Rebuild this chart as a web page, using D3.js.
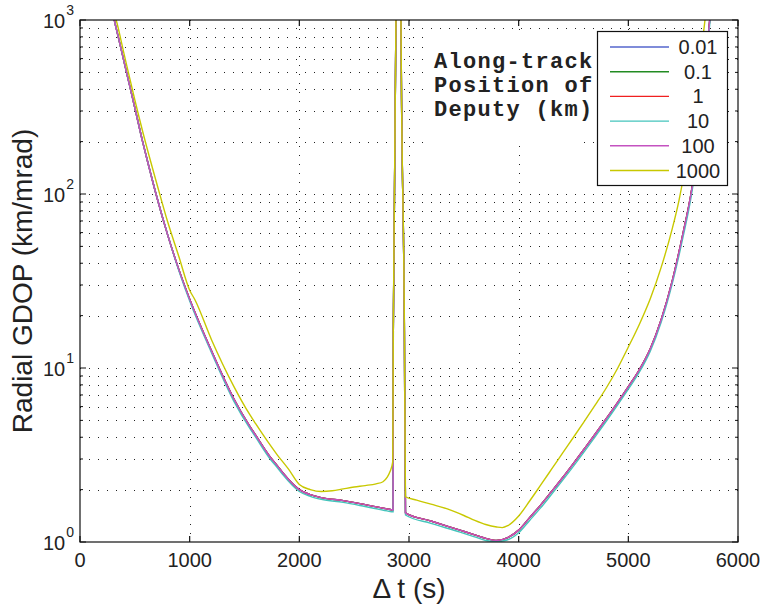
<!DOCTYPE html>
<html>
<head>
<meta charset="utf-8">
<script src="https://cdn.jsdelivr.net/npm/d3@7"></script>
<style>
  body { margin: 0; background: #fff; }
  svg { display: block; font-family: "Liberation Sans", Arial, sans-serif; }
</style>
</head>
<body>
<div id="vis"></div>
<script>
// time samples (s) for the near-identical small-offset runs
var tMain = [300, 313, 350, 400, 450, 500, 571, 600, 693, 800, 900, 1003, 1200, 1400, 1550, 1600, 1732, 1800, 1851,
  2000, 2100, 2200, 2400, 2600, 2800, 2855, 2857, 2881, 2885, 2923, 2927, 2958, 2968, 3200, 3465, 3600, 3700,
  3800, 3900, 4000, 4100, 4200, 4300, 4400, 4500, 4600, 4700, 4800, 4900, 5000, 5100, 5200, 5300, 5400, 5500,
  5571, 5650, 5742, 5800];

var gdop001 = [1100, 1000, 794, 582, 427, 313, 200, 169, 100, 58, 37, 24.6, 12.5, 6.7, 4.6, 4.12, 3.09, 2.74, 2.49,
  2.00, 1.87, 1.80, 1.73, 1.64, 1.55, 1.53, 16.5, 1000, 5000, 5000, 1000, 16.5, 1.47, 1.32, 1.17, 1.10, 1.05,
  1.02, 1.06, 1.17, 1.38, 1.63, 1.95, 2.34, 2.83, 3.44, 4.19, 5.13, 6.31, 7.82, 9.77, 12.9, 19, 31.6, 60,
  100, 220, 1000, 2500];
var gdop01 = [1100, 1000, 794, 582, 427, 313, 200, 169, 100, 58, 37, 24.6, 12.5, 6.7, 4.6, 4.12, 3.09, 2.74, 2.49,
  2.00, 1.87, 1.80, 1.73, 1.64, 1.55, 1.53, 16.5, 1000, 5000, 5000, 1000, 16.5, 1.47, 1.32, 1.17, 1.10, 1.05,
  1.02, 1.06, 1.17, 1.38, 1.63, 1.95, 2.34, 2.83, 3.44, 4.19, 5.13, 6.31, 7.82, 9.77, 12.9, 19, 31.6, 60,
  100, 220, 1000, 2500];
var gdop1 = [1100, 1000, 794, 582, 427, 313, 200, 169, 100, 58, 37, 24.6, 12.5, 6.7, 4.6, 4.12, 3.09, 2.74, 2.49,
  2.00, 1.87, 1.80, 1.73, 1.64, 1.55, 1.53, 16.5, 1000, 5000, 5000, 1000, 16.5, 1.47, 1.32, 1.17, 1.10, 1.05,
  1.02, 1.06, 1.17, 1.38, 1.63, 1.95, 2.34, 2.83, 3.44, 4.19, 5.13, 6.31, 7.82, 9.77, 12.9, 19, 31.6, 60,
  100, 220, 1000, 2500];
var gdop10 = [1100, 1000, 794, 582, 427, 313, 200, 169, 100, 58, 36.5, 24.0, 12.2, 6.5, 4.48, 4.02, 3.01, 2.67, 2.43,
  1.95, 1.83, 1.76, 1.69, 1.60, 1.51, 1.49, 16.5, 1000, 5000, 5000, 1000, 16.5, 1.43, 1.28, 1.14, 1.07, 1.02,
  1.005, 1.03, 1.13, 1.33, 1.57, 1.88, 2.26, 2.73, 3.32, 4.05, 4.96, 6.1, 7.55, 9.45, 12.5, 18.4, 30.5, 57,
  95, 210, 940, 2400];
var gdop100 = [1100, 1000, 794, 582, 427, 313, 200, 169, 100, 58, 37, 24.6, 12.5, 6.7, 4.6, 4.12, 3.09, 2.74, 2.49,
  2.00, 1.87, 1.80, 1.73, 1.64, 1.55, 1.53, 16.5, 1000, 5000, 5000, 1000, 16.5, 1.47, 1.32, 1.17, 1.10, 1.05,
  1.02, 1.06, 1.17, 1.38, 1.63, 1.95, 2.34, 2.83, 3.44, 4.19, 5.13, 6.31, 7.82, 9.77, 12.9, 19, 31.6, 60,
  100, 220, 1000, 2500];

// the 1000 km run has its own samples
var tFar = [300, 330, 400, 500, 600, 700, 800, 900, 1000, 1049, 1200, 1400, 1550, 1600, 1800, 1900, 2000, 2100,
  2200, 2300, 2400, 2500, 2600, 2700, 2763, 2800, 2827, 2852, 2857, 2881, 2885, 2923, 2927, 2958, 2968, 3070,
  3200, 3374, 3500, 3600, 3700, 3800, 3850, 3900, 4000, 4100, 4200, 4300, 4400, 4500, 4600, 4700, 4800, 4900,
  5000, 5100, 5200, 5300, 5400, 5462, 5550, 5620, 5699, 5750];
var gdop1000 = [1150, 1000, 645, 347, 195, 115, 69, 44, 28, 24.6, 14.5, 7.9, 5.37, 4.8, 3.16, 2.63, 2.14, 2.0,
  1.95, 1.97, 2.02, 2.07, 2.11, 2.16, 2.22, 2.35, 2.54, 2.9, 18, 1000, 5000, 5000, 1000, 18, 1.82, 1.74,
  1.65, 1.53, 1.42, 1.33, 1.26, 1.22, 1.21, 1.24, 1.41, 1.72, 2.12, 2.62, 3.24, 4.0, 4.95, 6.15, 7.7, 9.9,
  13.2, 17.8, 25, 38, 63, 92, 190, 400, 1000, 2000];

var legendLabels = ["0.01", "0.1", "1", "10", "100", "1000"];
var lineColors = ["#5566cc", "#228b22", "#f02020", "#45c4bc", "#c452c0", "#c8c800"];
var xTicks = [0, 1000, 2000, 3000, 4000, 5000, 6000];
var yDecades = [1, 10, 100, 1000];
var yExp = ["0", "1", "2", "3"];

var series = [
  { t: tMain, v: gdop001 },
  { t: tMain, v: gdop01 },
  { t: tMain, v: gdop1 },
  { t: tMain, v: gdop10 },
  { t: tMain, v: gdop100 },
  { t: tFar, v: gdop1000 }
];

var w = 762;
var h = 604;
var pLeft = 80, pRight = 738, pTop = 20, pBottom = 542;

var svg = d3.select("#vis")
  .append("svg")
  .attr("width", w)
  .attr("height", h);

var x = d3.scaleLinear().domain([0, 6000]).range([pLeft, pRight]);
var y = d3.scaleLog().domain([1, 1000]).range([pBottom, pTop]);

// minor log ticks 2..9 in each decade
var minor = [];
[1, 10, 100].forEach(function (d) {
  for (var k = 2; k <= 9; k++) minor.push(d * k);
});

// dotted grid
var grid = svg.append("g").attr("stroke", "#222").attr("stroke-width", 1).attr("stroke-dasharray", "1,8");
grid.selectAll(".gx")
  .data(xTicks.slice(1, -1))
  .enter().append("line")
  .attr("x1", d => Math.round(x(d)) + 0.5).attr("x2", d => Math.round(x(d)) + 0.5)
  .attr("y1", pTop).attr("y2", pBottom);
grid.selectAll(".gy")
  .data(minor.concat([10, 100]))
  .enter().append("line")
  .attr("x1", pLeft).attr("x2", pRight)
  .attr("y1", d => Math.round(y(d)) + 0.5).attr("y2", d => Math.round(y(d)) + 0.5);

// curves
svg.append("clipPath").attr("id", "clip")
  .append("rect").attr("x", pLeft).attr("y", pTop).attr("width", pRight - pLeft).attr("height", pBottom - pTop);

var line = d3.line()
  .x(d => x(d[0]))
  .y(d => y(d[1]))
  .curve(d3.curveMonotoneX);

svg.append("g").attr("clip-path", "url(#clip)")
  .selectAll("path")
  .data(series)
  .enter().append("path")
  .attr("d", s => line(s.t.map((t, i) => [t, s.v[i]])))
  .attr("fill", "none")
  .attr("stroke", (s, i) => lineColors[i])
  .attr("stroke-width", 1.4);

// axes box and inward ticks
var ax = svg.append("g").attr("stroke", "#111").attr("stroke-width", 1.2);
ax.append("rect")
  .attr("x", pLeft).attr("y", pTop).attr("width", pRight - pLeft).attr("height", pBottom - pTop)
  .attr("fill", "none");
ax.selectAll(".tx")
  .data(xTicks)
  .enter().append("path")
  .attr("d", d => "M" + x(d) + "," + pBottom + "v-6M" + x(d) + "," + pTop + "v6");
ax.selectAll(".ty")
  .data(yDecades)
  .enter().append("path")
  .attr("d", d => "M" + pLeft + "," + y(d) + "h6M" + pRight + "," + y(d) + "h-6");
ax.selectAll(".tm")
  .data(minor)
  .enter().append("path")
  .attr("stroke-width", 1)
  .attr("d", d => "M" + pLeft + "," + y(d) + "h3M" + pRight + "," + y(d) + "h-3");

// tick labels
svg.selectAll(".xl")
  .data(xTicks)
  .enter().append("text")
  .attr("x", d => x(d))
  .attr("y", 567)
  .attr("text-anchor", "middle")
  .attr("font-size", 20)
  .attr("fill", "#222")
  .text(d => d);

var yl = svg.selectAll(".yl")
  .data(yDecades)
  .enter().append("text")
  .attr("x", 74)
  .attr("y", d => y(d) + 8)
  .attr("text-anchor", "end")
  .attr("font-size", 20)
  .attr("fill", "#222");
yl.append("tspan").text("10");
yl.append("tspan").attr("dy", -13).attr("dx", 1).attr("font-size", 14).text((d, i) => yExp[i]);

// axis titles
svg.append("text")
  .attr("x", (pLeft + pRight) / 2)
  .attr("y", 598)
  .attr("text-anchor", "middle")
  .attr("font-size", 28)
  .attr("fill", "#222")
  .text("\u0394 t (s)");

svg.append("text")
  .attr("transform", "translate(32," + (pTop + pBottom) / 2 + ") rotate(-90)")
  .attr("text-anchor", "middle")
  .attr("font-size", 28)
  .attr("fill", "#222")
  .text("Radial GDOP (km/mrad)");

// annotation
svg.append("rect").attr("x", 430).attr("y", 36).attr("width", 148).attr("height", 109).attr("fill", "#fff");
svg.append("rect").attr("x", 578).attr("y", 36).attr("width", 19).attr("height", 102).attr("fill", "#fff");
var note = svg.append("text")
  .attr("font-family", "'Liberation Mono', 'Courier New', monospace")
  .attr("font-weight", "bold")
  .attr("font-size", 22)
  .attr("letter-spacing", 1.3)
  .attr("fill", "#222");
["Along-track", "Position of", "Deputy (km)"].forEach(function (s, i) {
  note.append("tspan").attr("x", 434).attr("y", 68 + i * 24).text(s);
});

// legend
var lg = svg.append("g");
lg.append("rect")
  .attr("x", 597.5).attr("y", 31.5).attr("width", 130).attr("height", 154)
  .attr("fill", "#fff").attr("stroke", "#111").attr("stroke-width", 1.2);
var rows = lg.selectAll(".row")
  .data(legendLabels)
  .enter().append("g")
  .attr("transform", (d, i) => "translate(0," + (47 + i * 24.7) + ")");
rows.append("line")
  .attr("x1", 610).attr("x2", 669)
  .attr("stroke", (d, i) => lineColors[i])
  .attr("stroke-width", 1.4);
rows.append("text")
  .attr("x", 698)
  .attr("y", 7)
  .attr("text-anchor", "middle")
  .attr("font-size", 20)
  .attr("fill", "#222")
  .text(d => d);
</script>
</body>
</html>
